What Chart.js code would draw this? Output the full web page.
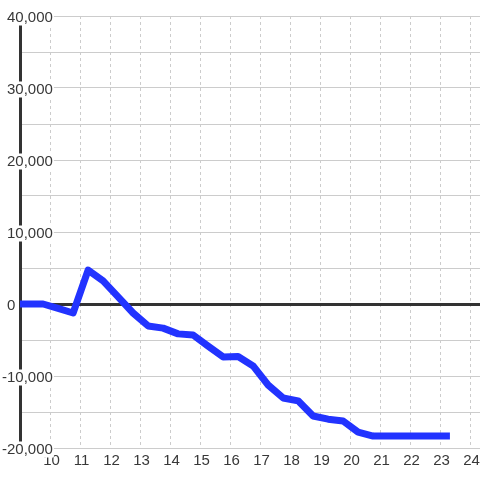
<!DOCTYPE html>
<html>
<head>
<meta charset="utf-8">
<script src="https://cdn.jsdelivr.net/npm/chart.js@4/dist/chart.umd.min.js"></script>
<style>
    body { margin: 0; background: #fff; }
    #wrap { width: 480px; height: 480px; }
</style>
</head>
<body>
<div id="wrap"><canvas id="balanceChart" width="480" height="480"></canvas></div>
<script>
// hour of day (x) and running balance (y)
const hours = [8.9, 9.77, 10.27, 10.77, 11.27, 11.77, 12.27, 12.77, 13.27, 13.77,
    14.27, 14.77, 15.27, 15.77, 16.27, 16.77, 17.27, 17.77, 18.27, 18.77,
    19.27, 19.77, 20.27, 20.77, 21.27, 21.77, 22.27, 22.77, 23.33];
const balance = [0, 0, -600, -1250, 4700, 3200, 1000, -1250, -3050, -3350,
    -4150, -4300, -5850, -7350, -7300, -8600, -11250, -13050, -13450, -15550,
    -16000, -16250, -17800, -18350, -18350, -18350, -18350, -18350, -18350];

const xMin = 9;
const xMax = 24.333;
const yMin = -20000;
const yMax = 40000;
const labelStep = 10000;

const textColor = '#383838';
const gridColor = '#cccccc';
const axisColor = '#333333';
const bgColor = '#ffffff';
const fontFamily = '"Liberation Sans", Arial, sans-serif';

const points = hours.map((h, i) => ({ x: h, y: balance[i] }));

// the zero label sits out by the left edge in the original, the rest hug the grid
function yLabel(v) {
    if (v % labelStep !== 0) return '';
    if (v === 0) return '0' + ' '.repeat(9);
    return v.toLocaleString('en-US');
}

const ctx = document.getElementById('balanceChart').getContext('2d');
const chart = new Chart(ctx, {
    type: 'line',
    data: {
        datasets: [{
            data: points,
            borderColor: '#2233ff',
            borderWidth: 7,
            borderJoinStyle: 'round',
            borderCapStyle: 'butt',
            pointRadius: 0,
            tension: 0,
            fill: false
        }]
    },
    options: {
        responsive: false,
        animation: false,
        devicePixelRatio: 1,
        layout: {
            padding: { top: 16, left: 20, right: 0, bottom: 6 }
        },
        plugins: {
            legend: { display: false },
            tooltip: { enabled: false }
        },
        scales: {
            x: {
                type: 'linear',
                min: xMin,
                max: xMax,
                // plot runs right to the canvas edge
                afterFit: s => { s.paddingRight = 0; s.paddingLeft = 0; },
                grid: {
                    color: c => (c.tick && c.tick.value === xMin) ? 'rgba(0,0,0,0)' : gridColor,
                    lineWidth: 1,
                    drawTicks: false
                },
                border: { display: false, dash: [3, 3] },
                ticks: {
                    stepSize: 1,
                    includeBounds: false,
                    autoSkip: false,
                    maxRotation: 0,
                    padding: 4,
                    labelOffset: 1.5,
                    color: textColor,
                    font: { family: fontFamily, size: 15 },
                    callback: v => v === xMin ? '' : String(v)
                }
            },
            y: {
                min: yMin,
                max: yMax,
                afterFit: s => { s.width = 0; },
                grid: {
                    color: c => (c.tick && c.tick.value === 0) ? axisColor : gridColor,
                    lineWidth: c => (c.tick && c.tick.value === 0) ? 3 : 1,
                    drawTicks: false
                },
                border: { display: true, color: axisColor, width: 3 },
                ticks: {
                    stepSize: 5000,
                    autoSkip: false,
                    mirror: true,
                    crossAlign: 'far',
                    padding: -18,
                    labelOffset: 1.5,
                    color: textColor,
                    font: { family: fontFamily, size: 15 },
                    showLabelBackdrop: true,
                    backdropColor: c => (c.tick && c.tick.value !== 0 && c.tick.value % labelStep === 0) ? bgColor : 'rgba(0,0,0,0)',
                    backdropPadding: { top: -1, bottom: -1, left: 2, right: 1 },
                    callback: yLabel
                }
            }
        }
    }
});
</script>
</body>
</html>
